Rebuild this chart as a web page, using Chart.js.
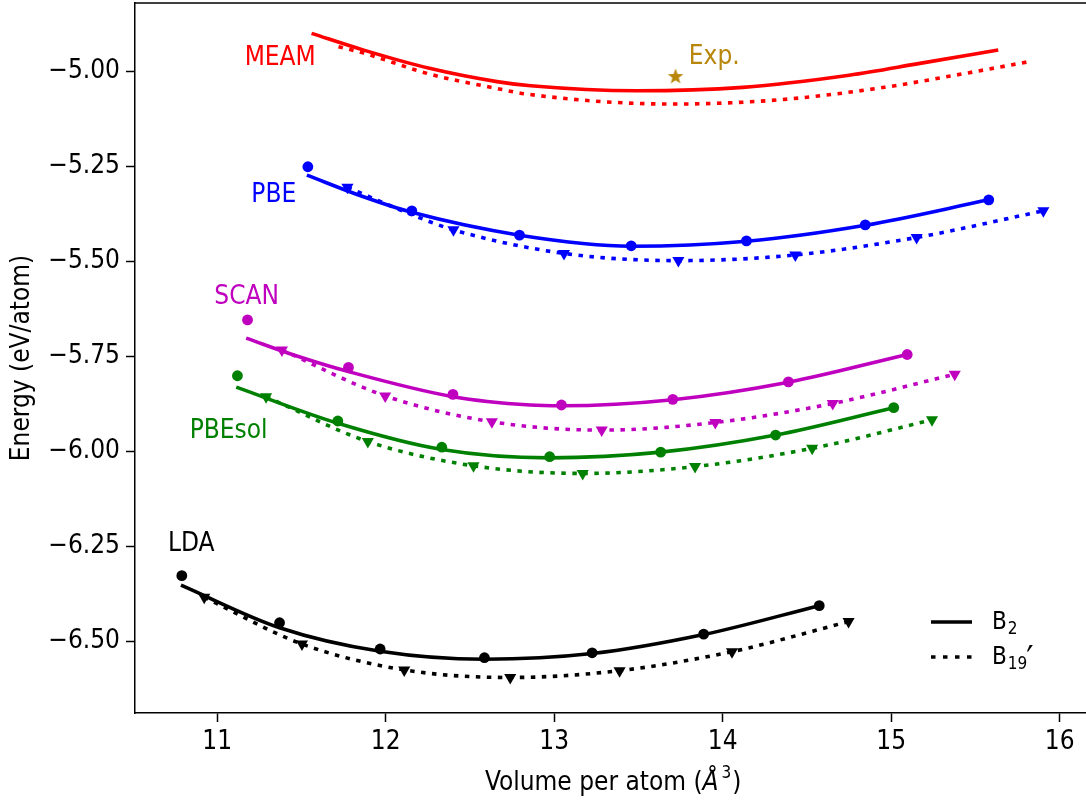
<!DOCTYPE html>
<html>
<head>
<meta charset="utf-8">
<script src="https://cdn.jsdelivr.net/npm/chart.js@4/dist/chart.umd.min.js"></script>
<style>
  html, body { margin: 0; padding: 0; background: #fff; overflow: hidden; }
  #wrap { width: 1086px; height: 803px; overflow: hidden; }
  #chart { display: block; margin-top: -6px; }
</style>
</head>
<body>
<div id="wrap"><canvas id="chart" width="1112" height="809"></canvas></div>
<script>
// ticks
const xTicks = [11, 12, 13, 14, 15, 16];
const yTicks = [-6.5, -6.25, -6.0, -5.75, -5.5, -5.25, -5.0];

// fitted curves [volume, energy]
const meamB2Fit = [[11.56,-4.901],[11.87,-4.945],[12.26,-4.993],[12.66,-5.028],[12.86,-5.039],[13.49,-5.052],[14.12,-5.043],[14.75,-5.011],[15.17,-4.980],[15.635,-4.945]];
const meamB19Fit = [[11.72,-4.936],[11.87,-4.953],[12.26,-5.008],[12.66,-5.046],[12.84,-5.061],[13.70,-5.087],[14.33,-5.076],[14.96,-5.043],[15.38,-5.011],[15.81,-4.976]];
const pbeB2Fit = [[11.532,-5.274],[11.868,-5.331],[12.155,-5.372],[12.794,-5.432],[13.457,-5.461],[14.141,-5.448],[14.846,-5.406],[15.579,-5.339]];
const pbeB19Fit = [[11.773,-5.306],[12.155,-5.378],[12.402,-5.418],[13.058,-5.480],[13.737,-5.499],[14.431,-5.484],[15.151,-5.438],[15.903,-5.368]];
const scanB2Fit = [[11.172,-5.703],[11.473,-5.750],[11.779,-5.791],[12.399,-5.857],[12.858,-5.879],[13.043,-5.881],[13.704,-5.865],[14.39,-5.819],[15.095,-5.746]];
const scanB19Fit = [[11.384,-5.734],[11.997,-5.855],[12.63,-5.923],[13.282,-5.945],[13.956,-5.925],[14.653,-5.875],[15.377,-5.798]];
const pbesolB2Fit = [[11.113,-5.832],[11.716,-5.927],[12.333,-5.996],[12.973,-6.018],[13.632,-6.003],[14.314,-5.958],[15.015,-5.886]];
const pbesolB19Fit = [[11.29,-5.857],[11.894,-5.975],[12.521,-6.039],[13.169,-6.059],[13.836,-6.041],[14.531,-5.993],[15.242,-5.918]];
const ldaB2Fit = [[10.785,-6.353],[11.37,-6.465],[11.967,-6.527],[12.586,-6.548],[13.225,-6.533],[13.887,-6.483],[14.573,-6.407]];
const ldaB19Fit = [[10.923,-6.385],[11.503,-6.508],[12.11,-6.576],[12.739,-6.596],[13.388,-6.578],[14.055,-6.528],[14.747,-6.449]];

// computed points (circles = B2, triangles = B19')
const pbeB2Pts = [[11.538,-5.252],[12.155,-5.368],[12.794,-5.432],[13.457,-5.460],[14.141,-5.447],[14.846,-5.405],[15.579,-5.339]];
const pbeB19Pts = [[11.773,-5.306],[12.402,-5.418],[13.058,-5.480],[13.737,-5.499],[14.431,-5.484],[15.151,-5.438],[15.903,-5.368]];
const scanB2Pts = [[11.18,-5.655],[11.779,-5.780],[12.399,-5.851],[13.043,-5.879],[13.704,-5.864],[14.39,-5.818],[15.095,-5.746]];
const scanB19Pts = [[11.384,-5.734],[11.997,-5.855],[12.63,-5.923],[13.282,-5.945],[13.956,-5.925],[14.653,-5.875],[15.377,-5.798]];
const pbesolB2Pts = [[11.12,-5.802],[11.716,-5.921],[12.333,-5.990],[12.973,-6.015],[13.632,-6.003],[14.314,-5.958],[15.015,-5.886]];
const pbesolB19Pts = [[11.29,-5.857],[11.894,-5.975],[12.521,-6.039],[13.169,-6.059],[13.836,-6.041],[14.531,-5.993],[15.242,-5.918]];
const ldaB2Pts = [[10.79,-6.328],[11.37,-6.452],[11.967,-6.521],[12.586,-6.544],[13.225,-6.531],[13.887,-6.482],[14.573,-6.407]];
const ldaB19Pts = [[10.923,-6.385],[11.503,-6.508],[12.11,-6.576],[12.739,-6.596],[13.388,-6.578],[14.055,-6.528],[14.747,-6.449]];
const expPt = [[13.72,-5.013]];

// text labels next to the curves [text, x, y, color]
const curveLabels = [
  ['MEAM', 11.374, -4.966, '#ff0000'],
  ['Exp.', 13.95, -4.964, '#b8860b'],
  ['PBE', 11.336, -5.326, '#0000ff'],
  ['SCAN', 11.175, -5.595, '#bf00bf'],
  ['PBEsol', 11.068, -5.947, '#008000'],
  ['LDA', 10.846, -6.245, '#000000']
];

// axis scaling of the figure: px per unit and where 11 / -5.00 sit on screen
const X_PX = 168.5, X11_AT = 217.2;
const Y_PX = 380, Y5_AT = 71;
const SHIFT = 6; // canvas is pulled up by this much (see css)

const FONT = "'DejaVu Sans Condensed', 'DejaVu Sans', sans-serif";
Chart.defaults.font.family = FONT;
Chart.defaults.color = '#000';

const toXY = arr => arr.map(([x, y]) => ({x: x, y: y}));

function fitLine(arr, color, dotted) {
  return {
    data: toXY(arr), showLine: true, borderColor: color, borderWidth: 3.6,
    borderDash: dotted ? [4.5, 6.5] : [], borderCapStyle: 'butt',
    pointRadius: 0, cubicInterpolationMode: 'monotone', fill: false, order: 2
  };
}
function marks(arr, color, tri) {
  return {
    data: toXY(arr), showLine: false, backgroundColor: color, borderColor: color,
    borderWidth: 0, pointStyle: tri ? 'triangle' : 'circle',
    pointRotation: tri ? 180 : 0, pointRadius: tri ? 7 : 5.4, order: 1
  };
}

// filled star for the experimental point
const star = document.createElement('canvas');
star.width = 20; star.height = 20;
(function () {
  const c = star.getContext('2d');
  c.fillStyle = '#b8860b';
  c.beginPath();
  for (let i = 0; i < 10; i++) {
    const r = i % 2 ? 3.4 : 8.2;
    const a = -Math.PI / 2 + i * Math.PI / 5;
    c.lineTo(10 + r * Math.cos(a), 10.8 + r * Math.sin(a));
  }
  c.closePath();
  c.fill();
})();

// top spine, labels, legend, x title
const extras = {
  id: 'extras',
  afterDatasetsDraw(chart) {
    const {ctx, chartArea: a, scales: {x, y}} = chart;
    ctx.save();
    ctx.strokeStyle = '#000';
    ctx.lineWidth = 1.5;
    ctx.beginPath();
    ctx.moveTo(a.left, a.top); ctx.lineTo(a.right, a.top);
    ctx.stroke();

    ctx.font = '26px ' + FONT;
    ctx.textAlign = 'center';
    ctx.textBaseline = 'middle';
    curveLabels.forEach(([t, vx, vy, col]) => {
      ctx.fillStyle = col;
      ctx.fillText(t, x.getPixelForValue(vx), y.getPixelForValue(vy));
    });

    // legend
    const lx = a.left + 796, rows = [a.bottom - 91, a.bottom - 56];
    ctx.strokeStyle = '#000';
    ctx.lineWidth = 3.6;
    ctx.lineCap = 'butt';
    rows.forEach((ry, i) => {
      ctx.setLineDash(i ? [4.5, 7.5] : []);
      ctx.beginPath();
      ctx.moveTo(lx, ry); ctx.lineTo(lx + 41, ry);
      ctx.stroke();
    });
    ctx.setLineDash([]);
    ctx.fillStyle = '#000';
    ctx.textAlign = 'left';
    const tx = lx + 61;
    [['2', ''], ['19', '\u2032']].forEach(([sub, tail], i) => {
      const ry = rows[i] + 1;
      ctx.font = '24px ' + FONT;
      ctx.fillText('B', tx, ry);
      const bw = ctx.measureText('B').width;
      ctx.font = '17px ' + FONT;
      ctx.fillText(sub, tx + bw + 1, ry + 7);
      const sw = ctx.measureText(sub).width;
      ctx.font = '36px ' + FONT;
      ctx.fillText(tail, tx + bw + sw, ry + 4);
    });

    // x axis title with italic angstrom
    const parts = [
      ['Volume per atom (', '26px ', 0],
      ['\u00C5', 'italic 26px ', 0],
      ['3', '17px ', -9],
      [')', '26px ', 0]
    ];
    let total = 0;
    parts.forEach(p => { ctx.font = p[1] + FONT; total += ctx.measureText(p[0]).width + (p[0] === '3' ? 4 : 0); });
    let px = x.getPixelForValue(13.35) - total / 2;
    const py = a.bottom + 70;
    parts.forEach(p => {
      ctx.font = p[1] + FONT;
      if (p[0] === '3') px += 3;
      ctx.fillText(p[0], px, py + p[2]);
      px += ctx.measureText(p[0]).width + (p[0] === '3' ? 1 : 0);
    });
    ctx.restore();
  }
};

const chart = new Chart(document.getElementById('chart'), {
  type: 'scatter',
  data: {
    datasets: [
      fitLine(meamB2Fit, '#ff0000', false), fitLine(meamB19Fit, '#ff0000', true),
      fitLine(pbeB2Fit, '#0000ff', false), fitLine(pbeB19Fit, '#0000ff', true),
      fitLine(scanB2Fit, '#bf00bf', false), fitLine(scanB19Fit, '#bf00bf', true),
      fitLine(pbesolB2Fit, '#008000', false), fitLine(pbesolB19Fit, '#008000', true),
      fitLine(ldaB2Fit, '#000000', false), fitLine(ldaB19Fit, '#000000', true),
      marks(pbeB2Pts, '#0000ff', false), marks(pbeB19Pts, '#0000ff', true),
      marks(scanB2Pts, '#bf00bf', false), marks(scanB19Pts, '#bf00bf', true),
      marks(pbesolB2Pts, '#008000', false), marks(pbesolB19Pts, '#008000', true),
      marks(ldaB2Pts, '#000000', false), marks(ldaB19Pts, '#000000', true),
      {data: toXY(expPt), showLine: false, pointStyle: star, pointRadius: 8, order: 0}
    ]
  },
  options: {
    responsive: false,
    animation: false,
    layout: {padding: {top: 3, right: 2, left: 0, bottom: 0}},
    plugins: {legend: {display: false}, tooltip: {enabled: false}},
    scales: {
      x: {
        type: 'linear', min: 10.513, max: 16.18,
        afterBuildTicks: s => { s.ticks = xTicks.map(v => ({value: v})); },
        afterFit: s => { s.height = 90; s.paddingLeft = 0; s.paddingRight = 0; },
        ticks: {font: {size: 26}, padding: 5, color: '#000', callback: v => String(v)},
        grid: {drawOnChartArea: false, tickLength: 9, tickWidth: 1.5, tickColor: '#000'},
        border: {color: '#000', width: 1.5},
        title: {display: false}
      },
      y: {
        type: 'linear', min: -6.689, max: -4.821,
        afterBuildTicks: s => { s.ticks = yTicks.map(v => ({value: v})); },
        afterFit: s => { s.width = 135; s.paddingTop = 0; s.paddingBottom = 0; },
        ticks: {font: {size: 26}, padding: 6, color: '#000',
          callback: v => '\u2212' + Math.abs(v).toFixed(2)},
        grid: {drawOnChartArea: false, tickLength: 9, tickWidth: 1.5, tickColor: '#000'},
        border: {color: '#000', width: 1.5},
        title: {display: true, text: 'Energy (eV/atom)', font: {size: 26}, padding: {top: 7, bottom: 0}}
      }
    }
  },
  plugins: [extras]
});

// fit the axis ranges to the real plot box so the px per unit match the figure
const ca = chart.chartArea;
chart.options.scales.x.min = 11 + (ca.left - X11_AT) / X_PX;
chart.options.scales.x.max = 11 + (ca.right - X11_AT) / X_PX;
chart.options.scales.y.max = -5 - (ca.top - SHIFT - Y5_AT) / Y_PX;
chart.options.scales.y.min = -5 - (ca.bottom - SHIFT - Y5_AT) / Y_PX;
chart.update();
</script>
</body>
</html>
